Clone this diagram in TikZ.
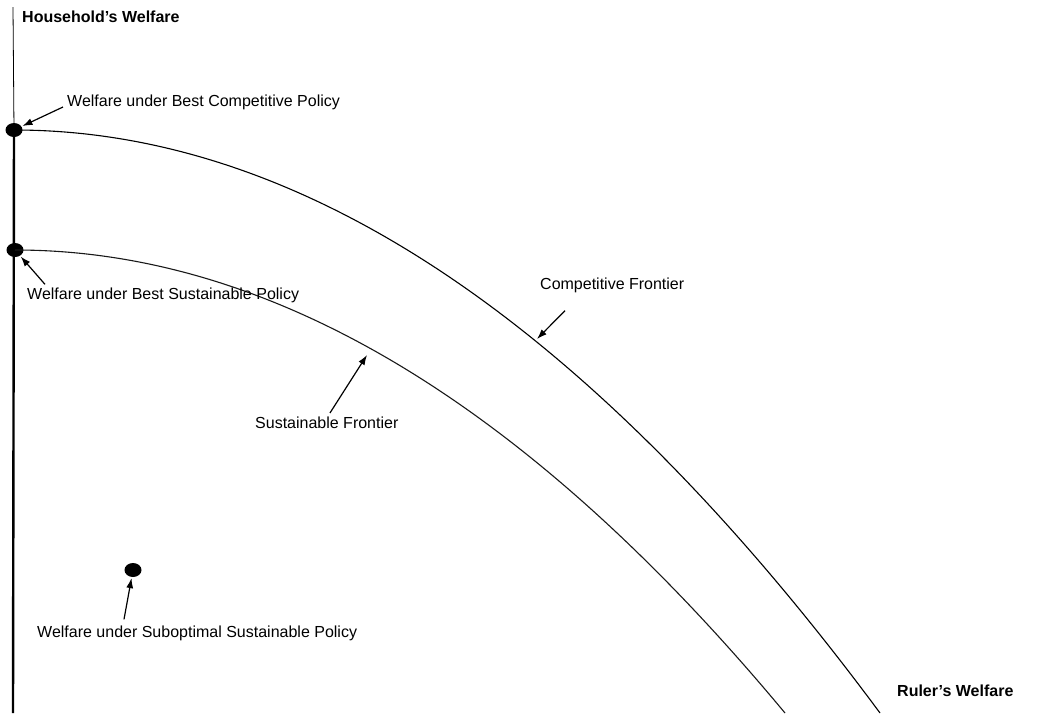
\documentclass[tikz,border=0pt]{standalone}
\usepackage{fontspec}
\setmainfont{Liberation Sans}
\usetikzlibrary{arrows,arrows.meta,shapes}
\tikzstyle{dot}=[ellipse,fill=black,minimum width=17pt,minimum height=14pt,inner sep=0pt]
\tikzstyle{tag}=[inner sep=0pt,anchor=west,font=\fontsize{16}{18}\selectfont]
\tikzstyle{axistag}=[tag,font=\fontsize{16}{18}\selectfont\bfseries]
\tikzstyle{pointer}=[draw,line width=1.2pt,-{Latex[length=10pt,width=7pt]}]
\tikzstyle{frontier}=[draw,line width=1.1pt]

\begin{document}
\begin{tikzpicture}[x=1pt,y=-1pt]
    \useasboundingbox (0,0) rectangle (1042,713);
    % the policy points
    \foreach \pos/\name in {{(14,130)/bc}, {(15,250)/bs}, {(133,570)/ss}}
        \node[dot] (\name) at \pos {};
    % axis and the two frontiers
    \coordinate (ytop) at (13,7);
    \coordinate (ybot) at (13,713);
    \coordinate (cfend) at (880,713);
    \coordinate (sfend) at (785,713);
    \path[draw,line width=0.8pt] (ytop) -- (bc.center);
    \path[draw,line width=2.4pt] (bc.center) -- (ybot);
    \path[frontier] (bc.center) .. controls (303,130) and (592,324) .. (cfend);
    \path[frontier,black!90] (bs.center) .. controls (272,250) and (528,404) .. (sfend);
    % labels
    \node[axistag] (yl) at (22,17) {Household's Welfare};
    \node[axistag] (xl) at (897,691) {Ruler's Welfare};
    \node[tag] (lbc) at (67,102) {Welfare under Best Competitive Policy};
    \node[tag] (lbs) at (27,295) {Welfare under Best Sustainable Policy};
    \node[tag] (lss) at (37,633) {Welfare under Suboptimal Sustainable Policy};
    \node[tag] (lcf) at (540,285) {Competitive Frontier};
    \node[tag] (lsf) at (255,423) {Sustainable Frontier};
    % pointers
    \coordinate (cfpt) at (537,339);
    \coordinate (sfpt) at (367,355);
    \path[pointer,shorten >=1pt] ([shift={(-4,5)}]lbc.west) -- (bc);
    \path[pointer,shorten >=1pt] ([shift={(18,-3)}]lbs.north west) -- (bs);
    \path[pointer,shorten >=1pt] ([shift={(87,-6)}]lss.north west) -- (ss);
    \path[pointer] ([shift={(25,18)}]lcf.south west) -- (cfpt);
    \path[pointer] ([shift={(75,-4)}]lsf.north west) -- (sfpt);
\end{tikzpicture}
\end{document}
